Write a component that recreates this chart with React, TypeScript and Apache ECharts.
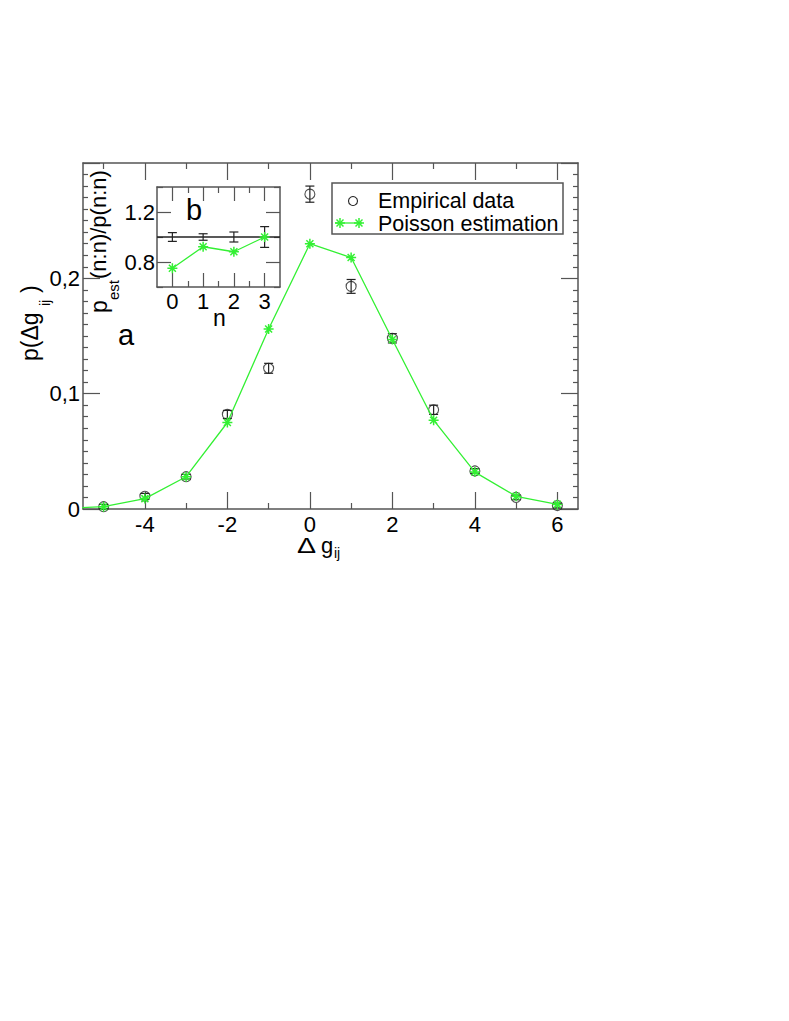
import React, { useEffect, useRef } from "react";
import * as echarts from "echarts";

// ---- Main panel (a) ----
const empX = [-5, -4, -3, -2, -1, 0, 1, 2, 3, 4, 5, 6];
const empY = [0.002, 0.011, 0.028, 0.082, 0.122, 0.273, 0.193, 0.148, 0.086, 0.033, 0.010, 0.003];
const empErr = [0.002, 0.0025, 0.002, 0.0035, 0.0043, 0.007, 0.006, 0.004, 0.004, 0.002, 0.002, 0.002];
const poiX = [-6, -5, -4, -3, -2, -1, 0, 1, 2, 3, 4, 5, 6];
const poiY = [0.0003, 0.002, 0.009, 0.028, 0.075, 0.156, 0.230, 0.218, 0.147, 0.077, 0.032, 0.011, 0.004];
const mainMajorX = [-4, -2, 0, 2, 4, 6];
const mainMinorX = [-5, -3, -1, 1, 3, 5];

// ---- Inset (b) ----
const insN = [0, 1, 2, 3];
const insEmp = [1, 1, 1, 1];
const insErr = [0.035, 0.026, 0.04, 0.083];
const insPoi = [0.75, 0.922, 0.882, 1.0];
const insMajorX = [0, 1, 2, 3];
const insMinorX = [0.5, 1.5, 2.5];
const insMajorY = [0.8, 1.2];
const insMinorY = [0.6, 1.0, 1.4];

const FONT = "'Liberation Sans', Arial, Helvetica, sans-serif";
const AX = "#555";
const GREEN = "#33f033";
const STAR = "path://M5,0L5,10M0,5L10,5M1.5,1.5L8.5,8.5M8.5,1.5L1.5,8.5";

function errRender(cap: number, color: string) {
  return (params: any, api: any) => {
    const x = api.value(0), y = api.value(1), e = api.value(2);
    const p1 = api.coord([x, y + e]);
    const p2 = api.coord([x, y - e]);
    const style = { stroke: color, lineWidth: 1.2 };
    return {
      type: "group",
      children: [
        { type: "line", shape: { x1: p1[0], y1: p1[1], x2: p2[0], y2: p2[1] }, style },
        { type: "line", shape: { x1: p1[0] - cap, y1: p1[1], x2: p1[0] + cap, y2: p1[1] }, style },
        { type: "line", shape: { x1: p2[0] - cap, y1: p2[1], x2: p2[0] + cap, y2: p2[1] }, style },
      ],
    };
  };
}

function starLines(cx: number, cy: number, r: number) {
  const s = { stroke: GREEN, lineWidth: 1.5 };
  const d = r * 0.7;
  return [
    { type: "line", shape: { x1: cx - r, y1: cy, x2: cx + r, y2: cy }, style: s },
    { type: "line", shape: { x1: cx, y1: cy - r, x2: cx, y2: cy + r }, style: s },
    { type: "line", shape: { x1: cx - d, y1: cy - d, x2: cx + d, y2: cy + d }, style: s },
    { type: "line", shape: { x1: cx - d, y1: cy + d, x2: cx + d, y2: cy - d }, style: s },
  ];
}

function xAx(gridIndex: number, position: string, min: number, max: number, vals: number[], len: number, line: boolean, labels: boolean, fontSize: number, margin: number) {
  return {
    type: "value", gridIndex, position, min, max,
    axisLine: { show: line, onZero: false, lineStyle: { color: AX, width: 1.5 } },
    axisTick: { show: true, inside: true, length: len, customValues: vals, lineStyle: { color: AX, width: 1.2 } },
    axisLabel: labels
      ? { show: true, customValues: vals, color: "#000", fontSize, fontFamily: FONT, margin, formatter: (v: number) => String(v) }
      : { show: false },
    splitLine: { show: false },
  };
}

function yAx(gridIndex: number, position: string, min: number, max: number, vals: number[], len: number, line: boolean, labels: number[] | null, fontSize: number, margin: number) {
  return {
    type: "value", gridIndex, position, min, max,
    axisLine: { show: line, onZero: false, lineStyle: { color: AX, width: 1.5 } },
    axisTick: { show: true, inside: true, length: len, customValues: vals, lineStyle: { color: AX, width: 1.2 } },
    axisLabel: labels
      ? { show: true, customValues: labels, color: "#000", fontSize, fontFamily: FONT, margin, formatter: (v: number) => v.toFixed(1) }
      : { show: false },
    splitLine: { show: false },
  };
}

export default function App() {
  const ref = useRef<HTMLDivElement>(null);
  useEffect(() => {
    if (!ref.current) return;
    const chart = echarts.init(ref.current, null, { renderer: "svg" });

    const mainYAxis = (position: string, showLabels: boolean) => ({
      type: "value", gridIndex: 0, position, min: 0, max: 0.3, interval: 0.1,
      axisLine: { show: true, onZero: false, lineStyle: { color: AX, width: 1.5 } },
      axisTick: { show: true, inside: true, length: 17, lineStyle: { color: AX, width: 1.2 } },
      minorTick: { show: true, splitNumber: 10, length: 5, lineStyle: { color: AX, width: 1.2 } },
      axisLabel: showLabels
        ? { show: true, color: "#000", fontSize: 22, fontFamily: FONT, margin: 3,
            formatter: (v: number) => (v === 0 ? "0" : v > 0.25 ? "" : v.toFixed(1).replace(".", ",")) }
        : { show: false },
      splitLine: { show: false },
    });

    const option: any = {
      animation: false,
      backgroundColor: "#fff",
      grid: [
        { left: 83, top: 163, width: 495, height: 346, show: false },
        { left: 157, top: 187, width: 123, height: 100, show: true, backgroundColor: "#fff", borderWidth: 0 },
      ],
      xAxis: [
        xAx(0, "bottom", -5.5, 6.5, mainMajorX, 17, true, true, 22, 4),
        xAx(0, "bottom", -5.5, 6.5, mainMinorX, 6, false, false, 22, 4),
        xAx(0, "top", -5.5, 6.5, mainMajorX, 17, true, false, 22, 4),
        xAx(0, "top", -5.5, 6.5, mainMinorX, 6, false, false, 22, 4),
        xAx(1, "bottom", -0.5, 3.5, insMajorX, 14, true, true, 22, 3),
        xAx(1, "bottom", -0.5, 3.5, insMinorX, 6, false, false, 22, 3),
        xAx(1, "top", -0.5, 3.5, insMajorX, 14, true, false, 22, 3),
        xAx(1, "top", -0.5, 3.5, insMinorX, 6, false, false, 22, 3),
      ],
      yAxis: [
        mainYAxis("left", true),
        mainYAxis("right", false),
        yAx(1, "left", 0.6, 1.4, insMajorY, 14, true, insMajorY, 22, 2),
        yAx(1, "left", 0.6, 1.4, insMinorY, 6, false, null, 22, 2),
        yAx(1, "right", 0.6, 1.4, insMajorY, 14, true, null, 22, 2),
        yAx(1, "right", 0.6, 1.4, insMinorY, 6, false, null, 22, 2),
      ],
      series: [
        {
          type: "custom", xAxisIndex: 0, yAxisIndex: 0,
          renderItem: errRender(4.5, "#222"),
          data: empX.map((x, i) => [x, empY[i], empErr[i]]),
          z: 3,
        },
        {
          type: "scatter", xAxisIndex: 0, yAxisIndex: 0,
          symbol: "circle", symbolSize: 10,
          itemStyle: { color: "rgba(0,0,0,0)", borderColor: "#222", borderWidth: 1.1 },
          data: empX.map((x, i) => [x, empY[i]]),
          z: 4,
        },
        {
          type: "line", xAxisIndex: 0, yAxisIndex: 0,
          symbol: STAR, symbolSize: 10, showAllSymbol: true,
          lineStyle: { color: GREEN, width: 1.3 },
          itemStyle: { color: GREEN, borderColor: GREEN, borderWidth: 1.5 },
          data: poiX.map((x, i) => [x, poiY[i]]),
          z: 5,
        },
        {
          type: "line", xAxisIndex: 4, yAxisIndex: 2,
          symbol: "none",
          lineStyle: { color: "#222", width: 1.3 },
          data: [[-0.5, 1], [3.5, 1]],
          z: 3,
        },
        {
          type: "custom", xAxisIndex: 4, yAxisIndex: 2,
          renderItem: errRender(4.5, "#222"),
          data: insN.map((x, i) => [x, insEmp[i], insErr[i]]),
          z: 3,
        },
        {
          type: "line", xAxisIndex: 4, yAxisIndex: 2,
          symbol: STAR, symbolSize: 10, showAllSymbol: true,
          lineStyle: { color: GREEN, width: 1.3 },
          itemStyle: { color: GREEN, borderColor: GREEN, borderWidth: 1.5 },
          data: insN.map((x, i) => [x, insPoi[i]]),
          z: 5,
        },
      ],
      graphic: [
        // panel labels
        { type: "text", x: 118, y: 335, style: { text: "a", fontSize: 29, fontFamily: FONT, fill: "#000", verticalAlign: "middle" } },
        { type: "text", x: 186, y: 210, style: { text: "b", fontSize: 29, fontFamily: FONT, fill: "#000", verticalAlign: "middle" } },
        // x axis title
        { type: "text", x: 297, y: 545, scaleX: 1.3, style: { text: "Δ", fontSize: 22, fontFamily: FONT, fill: "#000", verticalAlign: "middle" } },
        { type: "text", x: 321, y: 545, style: { text: "g", fontSize: 22, fontFamily: FONT, fill: "#000", verticalAlign: "middle" } },
        { type: "text", x: 334, y: 553, style: { text: "ij", fontSize: 14, fontFamily: FONT, fill: "#000", verticalAlign: "middle" } },
        // main y title (rotated)
        {
          type: "group", x: 38, y: 361, rotation: Math.PI / 2,
          children: [
            { type: "text", x: 0, y: -8, style: { text: "p(Δg", fontSize: 23, fontFamily: FONT, fill: "#000", verticalAlign: "middle" } },
            { type: "text", x: 55, y: 7, style: { text: "ij", fontSize: 14, fontFamily: FONT, fill: "#000", verticalAlign: "middle" } },
            { type: "text", x: 68, y: -8, style: { text: ")", fontSize: 23, fontFamily: FONT, fill: "#000", verticalAlign: "middle" } },
          ],
        },
        // inset y title (rotated)
        {
          type: "group", x: 106, y: 313, rotation: Math.PI / 2,
          children: [
            { type: "text", x: 0, y: -7.5, style: { text: "p", fontSize: 23, fontFamily: FONT, fill: "#000", verticalAlign: "middle" } },
            { type: "text", x: 13, y: 7, style: { text: "est", fontSize: 15, fontFamily: FONT, fill: "#000", verticalAlign: "middle" } },
            { type: "text", x: 34, y: -7.5, style: { text: "(n:n)/p(n:n)", fontSize: 22, fontFamily: FONT, fill: "#000", verticalAlign: "middle" } },
          ],
        },
        // inset x title
        { type: "text", x: 213, y: 318, style: { text: "n", fontSize: 23, fontFamily: FONT, fill: "#000", verticalAlign: "middle" } },
        // legend
        {
          type: "group",
          children: [
            { type: "rect", shape: { x: 332, y: 183, width: 231, height: 51 }, style: { fill: "#fff", stroke: AX, lineWidth: 1.5 } },
            { type: "circle", shape: { cx: 353, cy: 201, r: 4.5 }, style: { fill: "none", stroke: "#222", lineWidth: 1.1 } },
            { type: "text", x: 378, y: 201, style: { text: "Empirical data", fontSize: 21.5, fontFamily: FONT, fill: "#000", verticalAlign: "middle" } },
            { type: "line", shape: { x1: 335, y1: 223, x2: 362, y2: 223 }, style: { stroke: GREEN, lineWidth: 1.3 } },
            ...starLines(340, 223, 5),
            ...starLines(359, 223, 5),
            { type: "text", x: 378, y: 224, style: { text: "Poisson estimation", fontSize: 21.5, fontFamily: FONT, fill: "#000", verticalAlign: "middle" } },
          ],
        },
      ],
    };
    chart.setOption(option);
    return () => chart.dispose();
  }, []);
  return <div ref={ref} style={{ position: "absolute", left: 0, top: 0, width: 789, height: 1021 }} />;
}
